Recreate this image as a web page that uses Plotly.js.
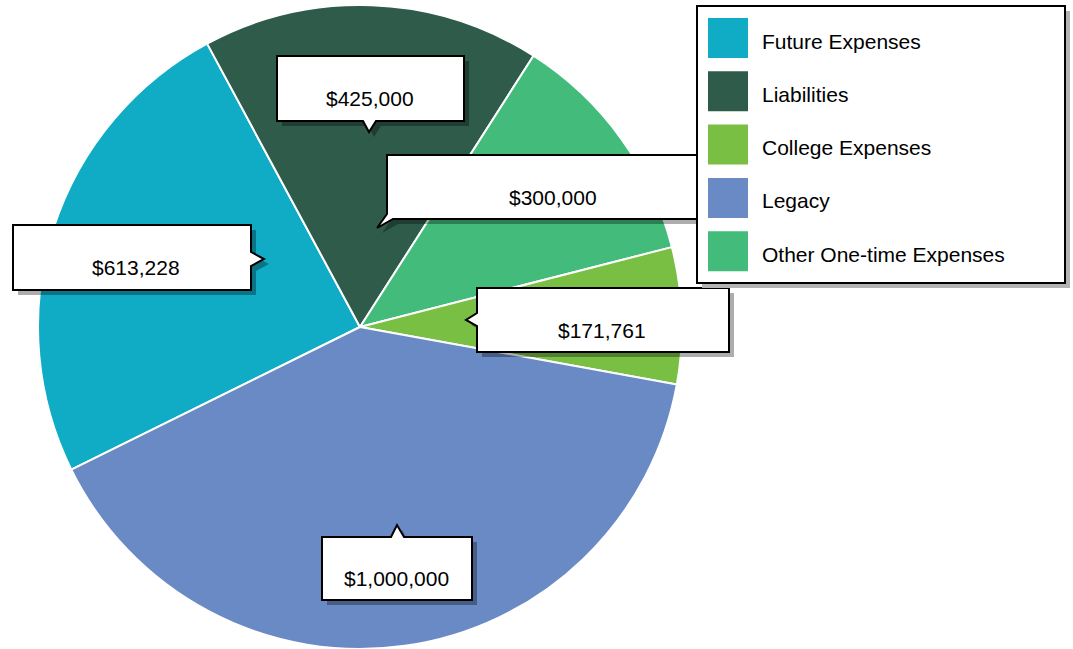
<!DOCTYPE html>
<html><head><meta charset="utf-8">
<script src="https://cdn.plot.ly/plotly-3.0.1.min.js"></script>
<style>html,body{margin:0;padding:0;background:#fff;overflow:hidden;} #chart{width:1073px;height:649px;}</style>
</head><body><div id="chart"></div>
<script>
// ---- data ----
const categories = ["Future Expenses", "Liabilities", "College Expenses", "Legacy", "Other One-time Expenses"];
const values = [613228, 425000, 171761, 1000000, 300000];
const colors = ["#10ACC6", "#2F5B4B", "#78BF44", "#6A8AC6", "#42BB7B"];
// clockwise order of slices around the pie
const sliceOrder = ["Future Expenses", "Liabilities", "Other One-time Expenses", "College Expenses", "Legacy"];

// ---- layout helpers ----
const W = 1073, H = 649;
const FONT = "Liberation Sans, Arial, Helvetica, sans-serif";
const px = x => x / W;
const py = y => 1 - y / H;
function pathFrom(pts, dx, dy) {
  return pts.map((p, i) => (i ? "L" : "M") + px(p[0] + dx).toFixed(5) + "," + py(p[1] + dy).toFixed(5)).join(" ") + " Z";
}
const fmt = v => "$" + v.toLocaleString("en-US");

const idx = sliceOrder.map(c => categories.indexOf(c));
const pie = {
  type: "pie",
  labels: idx.map(i => categories[i]),
  values: idx.map(i => values[i]),
  marker: {colors: idx.map(i => colors[i]), line: {color: "#ffffff", width: 2}},
  sort: false,
  direction: "clockwise",
  rotation: 243.7,
  textinfo: "none",
  hoverinfo: "label+value",
  showlegend: false,
  domain: {x: [38 / W, 682 / W], y: [0, 644 / H]}
};

// callout geometry (pixel positions) keyed by category
const callouts = {
  "Liabilities": {pts: [[277,56],[464,56],[464,121],[376,121],[369,132],[363,121],[277,121]], tx: 370, ty: 98},
  "Other One-time Expenses": {pts: [[387,155],[715,155],[715,219],[393,219],[377,228],[387,214]], tx: 553, ty: 197},
  "Future Expenses": {pts: [[13,225],[251,225],[251,252],[264,259],[251,266],[251,290],[13,290]], tx: 136, ty: 268},
  "College Expenses": {pts: [[477,288],[729,288],[729,352],[477,352],[477,326],[466,320],[477,313]], tx: 602, ty: 330},
  "Legacy": {pts: [[322,537],[391,537],[397,525],[404,537],[472,537],[472,600],[322,600]], tx: 396, ty: 578}
};

const shapes = [], annotations = [];
const order = ["Future Expenses", "Legacy", "College Expenses", "Liabilities", "Other One-time Expenses"];
order.forEach(c => {
  const co = callouts[c];
  shapes.push({type: "path", xref: "paper", yref: "paper", path: pathFrom(co.pts, 5, 5),
    fillcolor: "rgba(0,0,0,0.32)", line: {width: 0}, layer: "above"});
  shapes.push({type: "path", xref: "paper", yref: "paper", path: pathFrom(co.pts, 0, 0),
    fillcolor: "#ffffff", line: {color: "#000000", width: 2}, layer: "above"});
  annotations.push({xref: "paper", yref: "paper", x: px(co.tx), y: py(co.ty), xanchor: "center", yanchor: "middle",
    showarrow: false, text: fmt(values[categories.indexOf(c)]), font: {family: FONT, size: 21, color: "#000"}});
});

// legend box
const LG = {l: 697, t: 6, r: 1065, b: 283};
shapes.push({type: "rect", xref: "paper", yref: "paper", x0: px(LG.l + 5), x1: px(LG.r + 5), y0: py(LG.b + 5), y1: py(LG.t + 5),
  fillcolor: "#b3b3b3", line: {width: 0}, layer: "above"});
shapes.push({type: "rect", xref: "paper", yref: "paper", x0: px(LG.l), x1: px(LG.r), y0: py(LG.b), y1: py(LG.t),
  fillcolor: "#ffffff", line: {color: "#000000", width: 2}, layer: "above"});
categories.forEach((c, i) => {
  const top = 18 + i * 53.3;
  shapes.push({type: "rect", xref: "paper", yref: "paper", x0: px(708), x1: px(748), y0: py(top + 40), y1: py(top),
    fillcolor: colors[i], line: {width: 0}, layer: "above"});
  annotations.push({xref: "paper", yref: "paper", x: px(760), y: py(top + 23), xanchor: "left", yanchor: "middle",
    showarrow: false, text: c, font: {family: FONT, size: 21, color: "#000"}});
});

const layout = {
  width: W, height: H,
  margin: {l: 0, r: 0, t: 0, b: 0},
  paper_bgcolor: "#ffffff",
  showlegend: false,
  shapes: shapes,
  annotations: annotations
};
Plotly.newPlot("chart", [pie], layout, {displayModeBar: false, staticPlot: true});
</script>
</body></html>
